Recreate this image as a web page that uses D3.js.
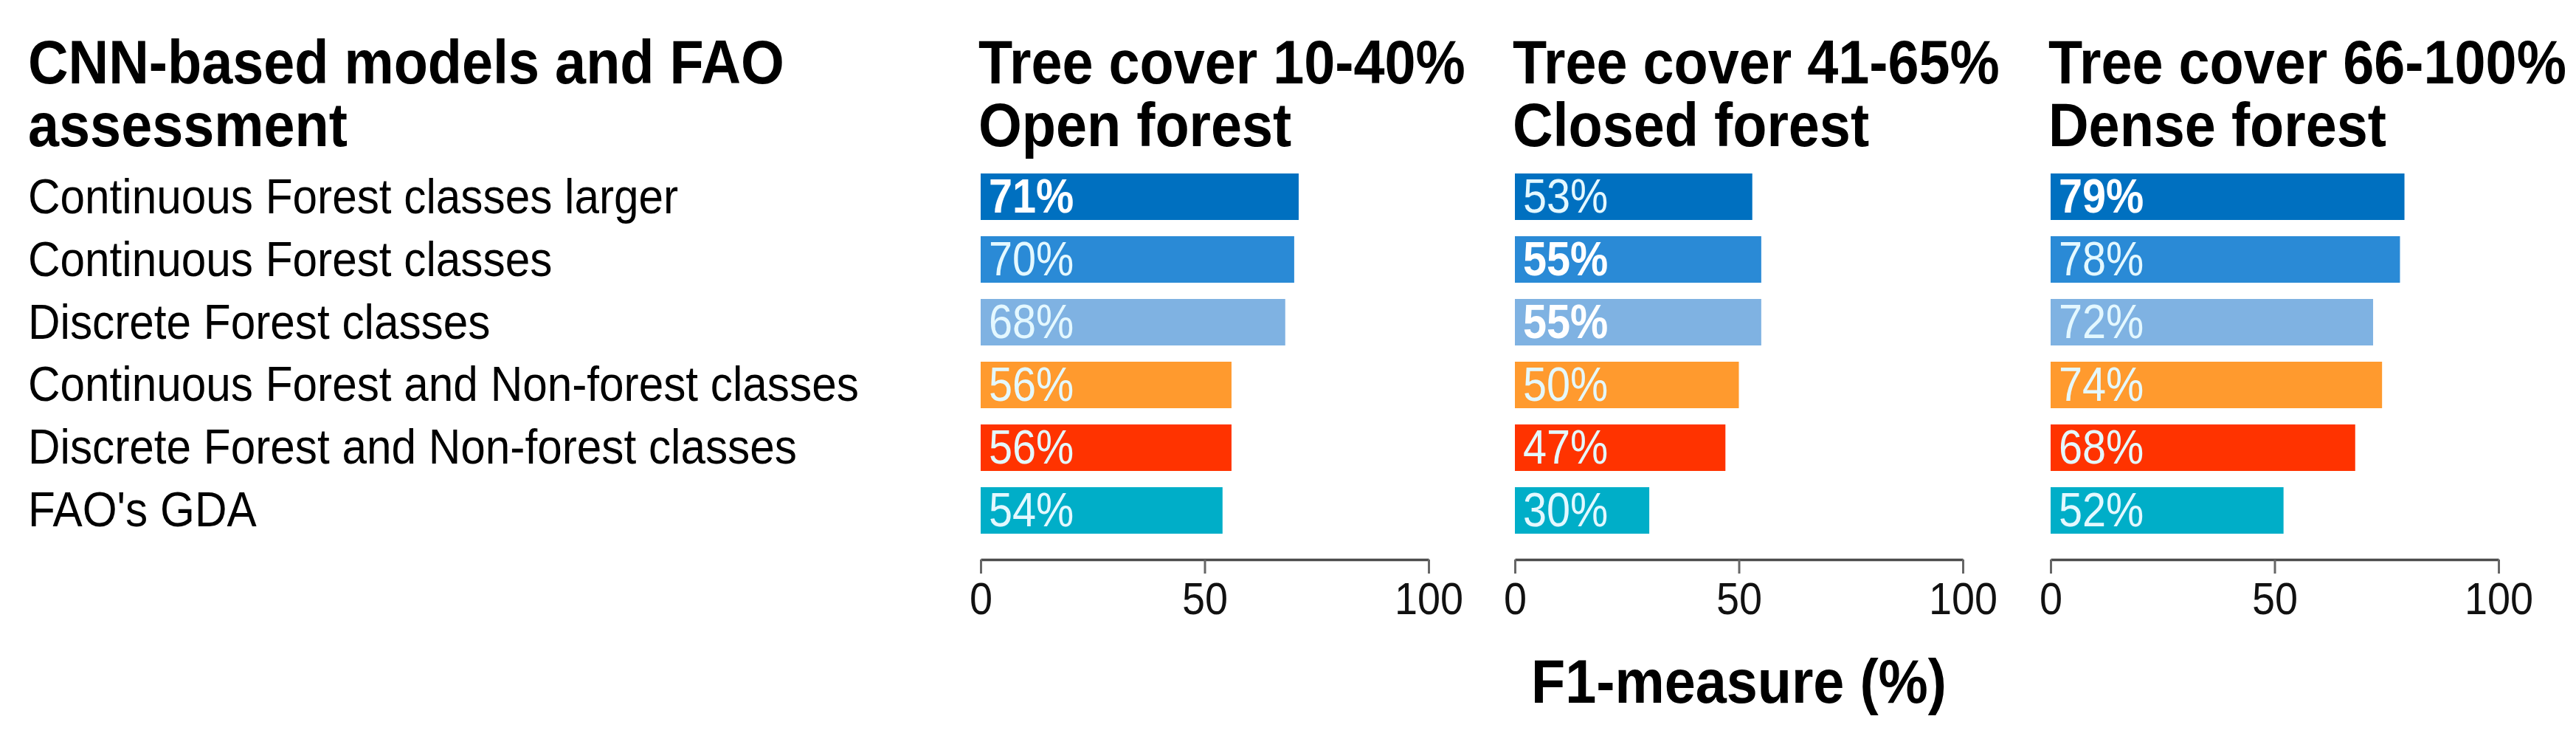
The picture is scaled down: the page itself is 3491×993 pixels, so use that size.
<!DOCTYPE html>
<html>
<head>
<meta charset="utf-8">
<script src="https://cdn.jsdelivr.net/npm/d3@7"></script>
<style>
    html, body { margin: 0; padding: 0; background: #fff; }
    svg { display: block; }
</style>
</head>
<body>
<svg id="chart" width="3491" height="993"></svg>
<script>
// data
const models = [
    "Continuous Forest classes larger",
    "Continuous Forest classes",
    "Discrete Forest classes",
    "Continuous Forest and Non-forest classes",
    "Discrete Forest and Non-forest classes",
    "FAO's GDA"
]
const modelColors = ["#0070c0", "#2a8ad6", "#7fb2e2", "#ff9a2e", "#ff3300", "#00aec8"]

const panelTitles = [
    ["Tree cover 10-40%", "Open forest"],
    ["Tree cover 41-65%", "Closed forest"],
    ["Tree cover 66-100%", "Dense forest"]
]
const openForest = [71, 70, 68, 56, 56, 54]
const closedForest = [53, 55, 55, 50, 47, 30]
const denseForest = [79, 78, 72, 74, 68, 52]
const panelValues = [openForest, closedForest, denseForest]

const tickValues = [0, 50, 100]
const leftTitle = ["CNN-based models and FAO", "assessment"]
const axisTitle = "F1-measure (%)"

const font = "'Liberation Sans', Arial, sans-serif"
const squeeze = 0.9 // text in the figure is a bit condensed

const svg = d3.select("#chart")

const panelX = [1329, 2053, 2779]
const panelW = 607
const axisY = 758

const y = d3.scaleBand()
    .domain(models)
    .range([213, 745])
    .padding(0.259)

function addText(g, str, x, yy, size, weight, anchor) {
    return g.append("text")
        .attr("transform", "translate(" + x + "," + yy + ") scale(" + squeeze + ",1)")
        .attr("font-family", font)
        .attr("font-size", size)
        .attr("font-weight", weight || "normal")
        .attr("text-anchor", anchor || "start")
        .attr("fill", "#000")
        .text(str)
}

// left header + row labels
addText(svg, leftTitle[0], 38, 113, 84, "bold")
addText(svg, leftTitle[1], 38, 198, 84, "bold")

svg.append("g").selectAll("text")
    .data(models)
    .join("text")
    .attr("transform", d => "translate(38," + (y(d) + y.bandwidth() / 2 + 22) + ") scale(" + squeeze + ",1)")
    .attr("font-family", font)
    .attr("font-size", 67)
    .attr("fill", "#000")
    .text(d => d)

// one small bar chart per tree-cover class
for (let p = 0; p < panelValues.length; p++) {
    const vals = panelValues[p]
    const best = d3.max(vals)
    const x = d3.scaleLinear().domain([0, 100]).range([panelX[p], panelX[p] + panelW])

    const g = svg.append("g")

    addText(g, panelTitles[p][0], panelX[p] - 3, 113, 84, "bold")
    addText(g, panelTitles[p][1], panelX[p] - 3, 198, 84, "bold")

    const rows = models.map((m, i) => ({model: m, value: vals[i], color: modelColors[i]}))

    g.selectAll("rect")
        .data(rows)
        .join("rect")
        .attr("x", x(0))
        .attr("y", d => y(d.model))
        .attr("width", d => x(d.value) - x(0))
        .attr("height", y.bandwidth())
        .attr("fill", d => d.color)

    g.selectAll("text.val")
        .data(rows)
        .join("text")
        .attr("class", "val")
        .attr("transform", d => "translate(" + (x(0) + 11) + "," + (y(d.model) + y.bandwidth() - 10) + ") scale(" + squeeze + ",1)")
        .attr("font-family", font)
        .attr("font-size", 64)
        .attr("font-weight", d => d.value === best ? "bold" : "normal")
        .attr("fill", d => d.value === best ? "#ffffff" : "#e4f8ff")
        .text(d => d.value + "%")

    const ax = g.append("g")
        .attr("transform", "translate(0," + axisY + ")")
        .call(d3.axisBottom(x).tickValues(tickValues).tickSize(19).tickSizeOuter(0).tickPadding(11))

    ax.select(".domain").attr("stroke", "#4d4d4d").attr("stroke-width", 3.5)
    ax.selectAll(".tick line").attr("stroke", "#666").attr("stroke-width", 3)
    ax.selectAll(".tick text")
        .attr("transform", "scale(" + squeeze + ",1)")
        .attr("font-family", font)
        .attr("font-size", 62)
        .attr("fill", "#111")
}

addText(svg, axisTitle, panelX[1] + panelW / 2, 952, 84, "bold", "middle")
</script>
</body>
</html>
